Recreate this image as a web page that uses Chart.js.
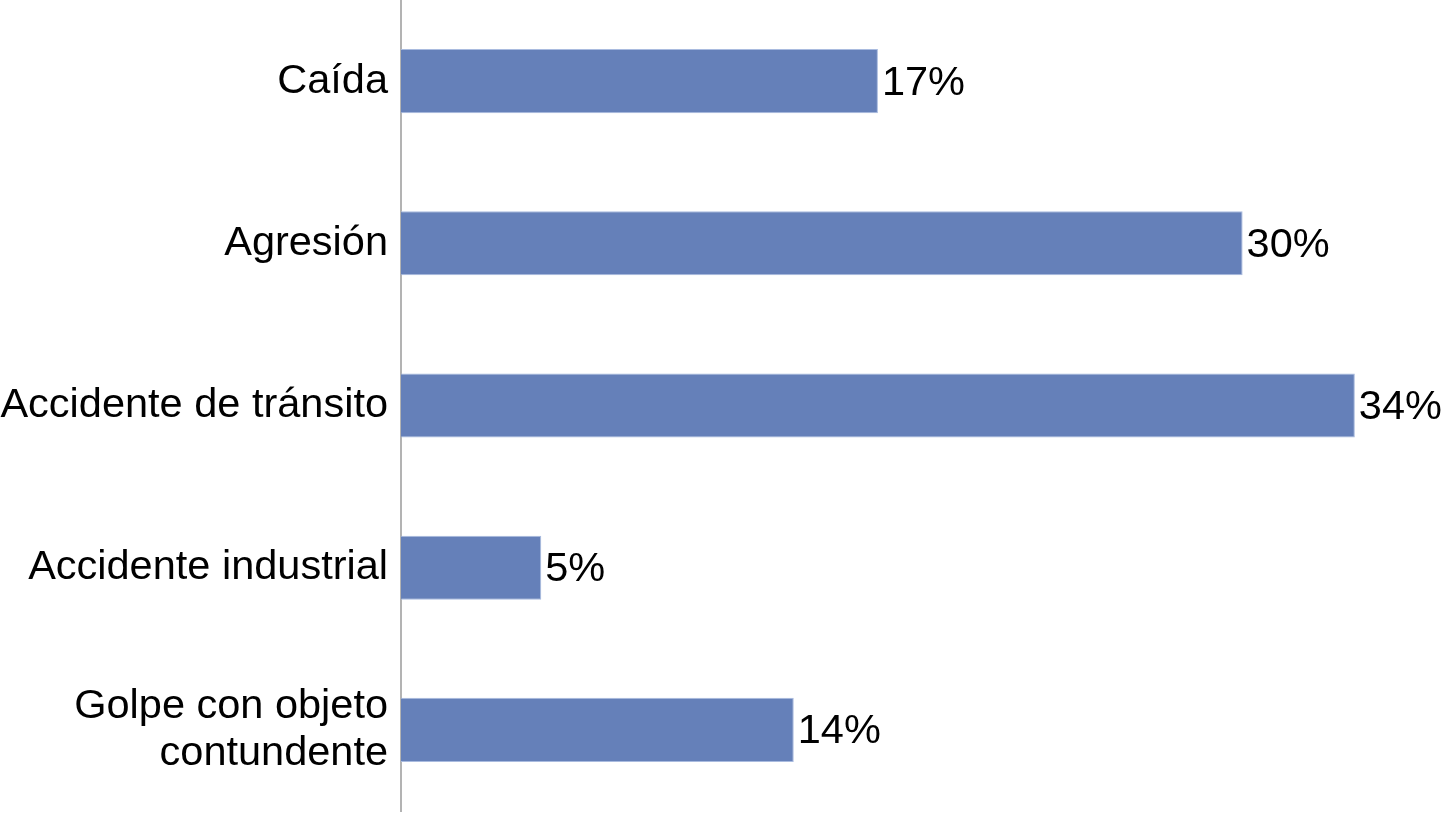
<!DOCTYPE html>
<html>
<head>
<meta charset="utf-8">
<script src="https://cdn.jsdelivr.net/npm/chart.js@4/dist/chart.umd.min.js"></script>
<style>
html,body{margin:0;padding:0;background:#fff;}
#wrap{width:1444px;height:814px;position:relative;}
</style>
</head>
<body>
<div id="wrap"><canvas id="c"></canvas></div>
<script>
const categories = ["Caída", "Agresión", "Accidente de tránsito", "Accidente industrial", ["Golpe con objeto", "contundente"]];
const values = [17, 30, 34, 5, 14];
const valueLabels = ["17%", "30%", "34%", "5%", "14%"];

const FONT = "'Liberation Sans', Arial, Helvetica, sans-serif";

const labelPlugin = {
  id: 'valueLabels',
  afterDatasetsDraw(chart) {
    const ctx = chart.ctx;
    const meta = chart.getDatasetMeta(0);
    ctx.save();
    ctx.font = "41.5px " + FONT;
    ctx.fillStyle = "#000";
    ctx.textAlign = "left";
    ctx.textBaseline = "middle";
    meta.data.forEach((bar, i) => {
      ctx.fillText(valueLabels[i], bar.x + 4, bar.y + 2);
    });
    ctx.restore();
  }
};

new Chart(document.getElementById('c'), {
  type: 'bar',
  data: {
    labels: categories,
    datasets: [{
      data: values,
      backgroundColor: '#6580b9',
      borderColor: '#a9bbdf',
      borderWidth: 1,
      borderSkipped: 'left',
      barPercentage: 0.395,
      categoryPercentage: 1.0
    }]
  },
  options: {
    indexAxis: 'y',
    responsive: true,
    maintainAspectRatio: false,
    animation: false,
    layout: { padding: { top: 0, bottom: 3, left: 0, right: 5 } },
    plugins: { legend: { display: false }, tooltip: { enabled: false } },
    scales: {
      x: {
        display: false,
        min: 0,
        max: 37
      },
      y: {
        afterFit(axis) { axis.width = 401; axis.paddingTop = 0; axis.paddingBottom = 0; },
        grid: { display: false, drawTicks: false },
        border: { display: true, color: '#b3b3b3', width: 2 },
        ticks: {
          color: '#000',
          padding: 13,
          font: { family: FONT, size: 41.5, lineHeight: 1.12 }
        }
      }
    }
  },
  plugins: [labelPlugin]
});
</script>
</body>
</html>
